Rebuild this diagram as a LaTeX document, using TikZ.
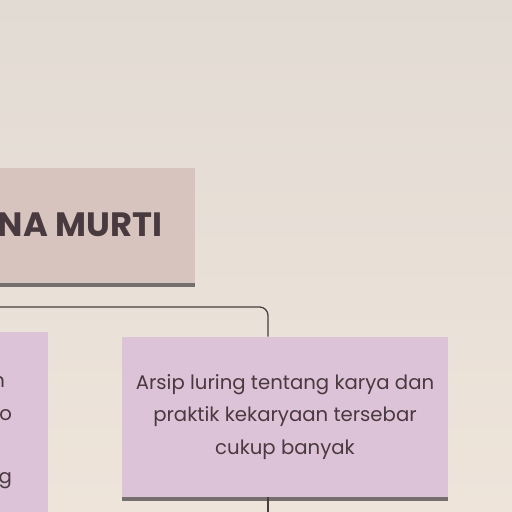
\documentclass[tikz,border=0pt]{standalone}
\usepackage{fontspec}
\setmainfont{Poppins}
\usepackage{tikz}
\usetikzlibrary{positioning,shadows}
\usepackage{xcolor}
\definecolor{walltop}{RGB}{226,219,212}
\definecolor{wallbottom}{RGB}{238,228,218}
\definecolor{titlebox}{RGB}{215,196,190}
\definecolor{lilac}{RGB}{221,195,215}
\definecolor{ink}{RGB}{72,58,62}
\definecolor{wire}{RGB}{70,62,62}
\tikzstyle{card} = [rectangle, text centered, fill=lilac, drop shadow={shadow xshift=0pt, shadow yshift=-2.5pt, opacity=0.7, fill=black!75}, text=ink]
\tikzstyle{wireline} = [line width=0.9pt, color=wire, rounded corners=6pt]

\begin{document}
\begin{tikzpicture}[x=0.025cm, y=-0.025cm]
\useasboundingbox (0,0) rectangle (512,512);
\clip (0,0) rectangle (512,512);
\shade[top color=walltop, bottom color=wallbottom] (0,0) rectangle (512,512);

% Title card
\node[card, fill=titlebox, minimum width=6.375cm, minimum height=2.875cm] (title) at (67.5,225.5) {};
\node[anchor=east, text=ink, font=\fontsize{24}{28}\selectfont\bfseries] (titletext) at (167,225) {NA MURTI};

% Cards
\node[card, minimum width=8.15cm, minimum height=4cm, font=\fontsize{14}{23.4}\selectfont, align=center] (arsip) at (285,417) {Arsip luring tentang karya dan\\praktik kekaryaan tersebar\\cukup banyak};
\node[card, minimum width=6.2cm, minimum height=5.2cm] (left) at (-76,436) {};
\node[anchor=east, text=ink, font=\fontsize{14}{17}\selectfont] (leftA) at (10,382) {n};
\node[anchor=east, text=ink, font=\fontsize{14}{17}\selectfont] (leftB) at (17,413) {io};
\node[anchor=east, text=ink, font=\fontsize{14}{17}\selectfont] (leftC) at (17,481) {ag};

% Connectors
\coordinate (wirein) at (0,307);
\coordinate (wireout) at (268,520);
\draw[wireline] (wirein) -| (wireout |- arsip.north);
\draw[wireline] (wireout |- arsip.south) -- (wireout);
\end{tikzpicture}
\end{document}
